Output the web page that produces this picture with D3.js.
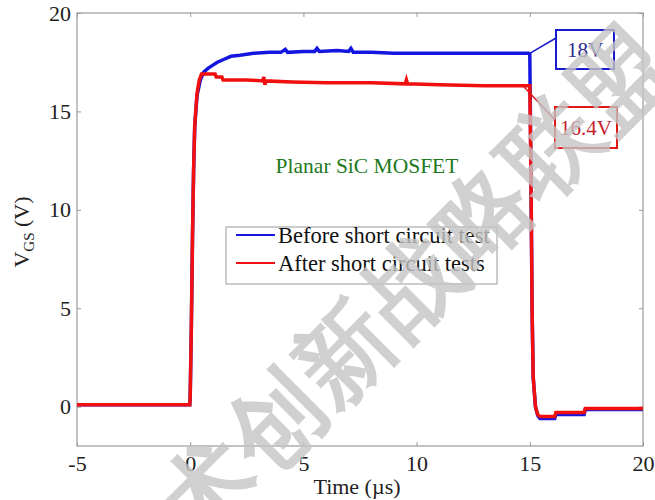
<!DOCTYPE html>
<html>
<head>
<meta charset="utf-8">
<script src="https://cdn.jsdelivr.net/npm/d3@7"></script>
<style>
  html, body { margin: 0; padding: 0; background: #fff; }
  svg { display: block; }
  text { font-family: "Liberation Serif", "Times New Roman", serif; }
</style>
</head>
<body>
<script>
// ---- data ----
const xTicks = [-5, 0, 5, 10, 15, 20];
const yTicks = [0, 5, 10, 15, 20];

const timeBefore = [-5, -0.02, 0.0, 0.05, 0.1, 0.15, 0.2, 0.3, 0.45, 0.6, 0.8, 1.0, 1.2, 1.5, 1.8, 2.2, 2.8, 3.5, 4.0, 4.2, 4.3, 5.0, 5.5, 5.6, 5.7, 6.5, 7.0, 7.1, 7.2, 8, 9, 10, 12, 14, 14.95, 15.0, 15.05, 15.1, 15.15, 15.25, 15.35, 15.45, 16.1, 16.15, 17.4, 17.45, 20];
const vgsBefore  = [0.1, 0.1, 0.5, 4.0, 8.5, 12.0, 14.2, 15.8, 16.6, 17.0, 17.2, 17.35, 17.5, 17.65, 17.8, 17.85, 17.95, 18.0, 18.0, 18.15, 18.0, 18.05, 18.05, 18.2, 18.05, 18.1, 18.05, 18.2, 18.0, 18.0, 17.95, 17.95, 17.95, 17.95, 17.95, 17.9, 12.0, 5.0, 1.5, 0.0, -0.45, -0.6, -0.6, -0.4, -0.4, -0.15, -0.15];

const timeAfter = [-5, -0.02, 0.0, 0.05, 0.1, 0.15, 0.2, 0.3, 0.4, 0.5, 1.1, 1.15, 1.4, 1.45, 2.5, 3.2, 3.25, 3.3, 3.35, 4.5, 6, 8, 9.5, 9.55, 9.6, 11, 13, 14.9, 15.0, 15.05, 15.1, 15.15, 15.25, 15.35, 15.45, 16.1, 16.15, 17.4, 17.45, 20];
const vgsAfter  = [0.1, 0.1, 0.5, 4.0, 8.5, 12.0, 14.3, 15.9, 16.6, 16.9, 16.9, 16.75, 16.75, 16.6, 16.6, 16.55, 16.75, 16.35, 16.55, 16.5, 16.45, 16.45, 16.4, 16.6, 16.4, 16.35, 16.3, 16.3, 16.3, 12.0, 5.0, 1.5, 0.0, -0.4, -0.5, -0.5, -0.3, -0.3, -0.1, -0.1];

const seriesNames = ["Before short circuit test", "After short circuit tests"];
const seriesColors = ["#1515e0", "#f01010"];
const annotations = [
  { label: "18V", t: 15.0, v: 17.95, color: "#1a1ad0", textColor: "#2a2a8a" },
  { label: "16.4V", t: 14.7, v: 16.3, color: "#e01818", textColor: "#c4202e" }
];
const watermark = "术创新战略联盟";

// ---- layout ----
const W = 655, H = 500;
const svg = d3.select("body").append("svg").attr("width", W).attr("height", H);

const x = d3.scaleLinear().domain([-5, 20]).range([77, 643]);
const y = d3.scaleLinear().domain([-2, 20]).range([446, 13]);

const axisColor = "#9a9a9a";
const tickFont = 22;

// frame
svg.append("rect")
  .attr("x", x(-5)).attr("y", y(20))
  .attr("width", x(20) - x(-5)).attr("height", y(-2) - y(20))
  .attr("fill", "none").attr("stroke", axisColor).attr("stroke-width", 1.2);

// axes (ticks inward)
const fmt = d => String(d);
const gx = svg.append("g").attr("transform", `translate(0,${y(-2)})`)
  .call(d3.axisBottom(x).tickValues(xTicks).tickSizeInner(-4).tickSizeOuter(0).tickPadding(9).tickFormat(fmt));
const gxTop = svg.append("g").attr("transform", `translate(0,${y(20)})`)
  .call(d3.axisTop(x).tickValues(xTicks).tickSizeInner(-4).tickSizeOuter(0).tickFormat(""));
const gy = svg.append("g").attr("transform", `translate(${x(-5)},0)`)
  .call(d3.axisLeft(y).tickValues(yTicks).tickSizeInner(-4).tickSizeOuter(0).tickPadding(6).tickFormat(fmt));
const gyR = svg.append("g").attr("transform", `translate(${x(20)},0)`)
  .call(d3.axisRight(y).tickValues(yTicks).tickSizeInner(-4).tickSizeOuter(0).tickFormat(""));

[gx, gxTop, gy, gyR].forEach(g => {
  g.select(".domain").remove();
  g.selectAll(".tick line").attr("stroke", axisColor);
  g.selectAll("text").attr("font-family", "Liberation Serif").attr("font-size", tickFont).attr("fill", "#222");
});

// axis labels
svg.append("text")
  .attr("x", 357).attr("y", 494)
  .attr("text-anchor", "middle").attr("font-size", 22).attr("fill", "#222")
  .text("Time (µs)");

const yl = svg.append("text")
  .attr("transform", `translate(29,232) rotate(-90)`)
  .attr("text-anchor", "middle").attr("font-size", 22).attr("fill", "#222");
yl.append("tspan").text("V");
yl.append("tspan").attr("font-size", 15).attr("dy", 5).text("GS");
yl.append("tspan").attr("dy", -5).text(" (V)");

// data lines
const line = d3.line().x(d => x(d[0])).y(d => y(d[1]));
const before = timeBefore.map((t, i) => [t, vgsBefore[i]]);
const after = timeAfter.map((t, i) => [t, vgsAfter[i]]);

svg.append("path").datum(before)
  .attr("d", line).attr("fill", "none")
  .attr("stroke", seriesColors[0]).attr("stroke-width", 3.5).attr("stroke-linejoin", "miter");
svg.append("path").datum(after)
  .attr("d", line).attr("fill", "none")
  .attr("stroke", seriesColors[1]).attr("stroke-width", 3.5).attr("stroke-linejoin", "miter");

// centered title text
svg.append("text")
  .attr("x", 367).attr("y", 173)
  .attr("text-anchor", "middle").attr("font-size", 21.5).attr("fill", "#217a21")
  .text("Planar SiC MOSFET");

// legend
const lg = svg.append("g");
lg.append("rect").attr("x", 226).attr("y", 227).attr("width", 271).attr("height", 57)
  .attr("fill", "#fff").attr("stroke", "#999").attr("stroke-width", 1);
seriesNames.forEach((name, i) => {
  const yy = 235 + i * 28;
  lg.append("line").attr("x1", 236).attr("x2", 275).attr("y1", yy).attr("y2", yy)
    .attr("stroke", seriesColors[i]).attr("stroke-width", 2);
  lg.append("text").attr("x", 278).attr("y", yy + 8)
    .attr("font-size", 22.5).attr("fill", "#111").text(name);
});

// annotations
const boxes = [
  { x: 556, y: 30, w: 58, h: 39, ax: 556, ay: 38 },
  { x: 555, y: 107, w: 62, h: 41, ax: 555, ay: 120 }
];
annotations.forEach((a, i) => {
  const b = boxes[i];
  svg.append("line")
    .attr("x1", x(a.t)).attr("y1", y(a.v))
    .attr("x2", b.ax).attr("y2", b.ay)
    .attr("stroke", a.color).attr("stroke-width", 1.5);
  svg.append("rect").attr("x", b.x).attr("y", b.y).attr("width", b.w).attr("height", b.h)
    .attr("fill", "#fff").attr("stroke", a.color).attr("stroke-width", 2);
  svg.append("text").attr("x", b.x + b.w / 2).attr("y", b.y + b.h / 2 + 7)
    .attr("text-anchor", "middle").attr("font-size", 21).attr("fill", a.textColor)
    .text(a.label);
});

// watermark
svg.append("text")
  .attr("transform", "translate(197,547) rotate(-45)")
  .attr("font-family", "Noto Sans CJK SC").attr("font-weight", 700)
  .attr("font-size", 95).attr("letter-spacing", 2)
  .attr("fill", "#c4c4c4").attr("fill-opacity", 0.8)
  .text(watermark);
</script>
</body>
</html>
